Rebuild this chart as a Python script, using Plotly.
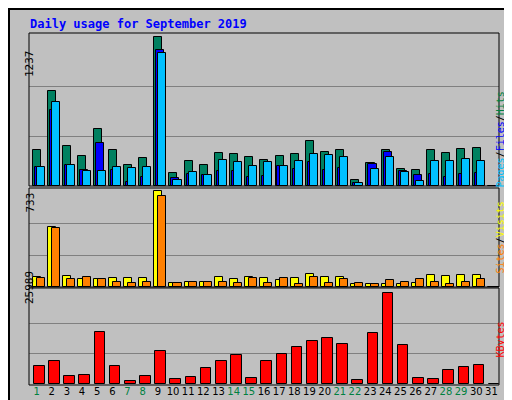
import plotly.graph_objects as go

days = list(range(1, 32))
weekend_days = [1, 7, 8, 14, 15, 21, 22, 28, 29]

hits = [297, 792, 330, 247, 470, 297, 173, 231, 1237, 107, 206, 173, 272, 264, 239,
        214, 247, 264, 371, 280, 297, 49, 190, 297, 140, 132, 297, 272, 305, 313, 0]
files = [157, 635, 173, 132, 355, 132, 33, 74, 1130, 66, 99, 91, 124, 124, 74,
         82, 165, 140, 198, 132, 148, 25, 181, 280, 124, 91, 99, 74, 99, 107, 0]
pages = [157, 701, 173, 124, 124, 157, 148, 157, 1105, 49, 115, 91, 214, 198, 165,
         198, 165, 206, 264, 256, 239, 25, 140, 239, 115, 41, 206, 206, 223, 206, 0]
visits = [74, 460, 81, 58, 58, 66, 66, 66, 733, 34, 42, 42, 74, 58, 74,
          66, 50, 66, 97, 74, 74, 26, 26, 26, 26, 34, 89, 81, 89, 89, 0]
sites = [66, 452, 58, 74, 58, 42, 34, 42, 696, 34, 42, 42, 42, 34, 66,
         34, 66, 26, 74, 34, 58, 34, 26, 50, 42, 58, 42, 26, 42, 58, 0]
kbytes = [5000, 6700, 2170, 2460, 14930, 5000, 760, 2170, 9540, 1320, 1890, 4440, 6700, 8410, 1610,
          6700, 8690, 10670, 12380, 13220, 11520, 1040, 14640, 25989, 11240, 1610, 1320, 3880, 4720, 5290, 0]

W, H = 512, 400
L, R, T, B = 21, 21, 25, 24


def px_x(x):
    return (x - L) / (W - L - R)


def px_y(y):
    return (H - B - y) / (H - T - B)


fig = go.Figure()
line = dict(color="black", width=1)


def bars(vals, color, offset, width, axis):
    fig.add_trace(go.Bar(x=days, y=vals, offset=offset, width=width,
                         marker=dict(color=color, line=line),
                         xaxis="x", yaxis=axis, hoverinfo="skip"))


bars(hits, "#008060", -0.24, 0.53, "y")
bars(files, "#0000FF", -0.11, 0.53, "y")
bars(pages, "#00C0FF", 0.03, 0.53, "y")
bars(visits, "#FFFF00", -0.24, 0.53, "y2")
bars(sites, "#FF8000", 0.03, 0.53, "y2")
bars(kbytes, "#FF0000", -0.17, 0.7, "y3")

ticktext = [
    f"<span style='color:{'#008040' if d in weekend_days else 'black'}'>{d}</span>" for d in days
]

yax = dict(showline=False, gridcolor="#808080", gridwidth=1, showticklabels=False,
           zeroline=False, ticks="", fixedrange=True, automargin=False)

fig.update_layout(
    width=W, height=H, margin=dict(l=L, r=R, t=T, b=B),
    paper_bgcolor="#C0C0C0", plot_bgcolor="#C0C0C0",
    showlegend=False, barmode="overlay", bargap=0,
    font=dict(family="DejaVu Sans Mono", size=11, color="black"),
    xaxis=dict(range=[0.5, 31.5], tickvals=days, ticktext=ticktext, ticks="",
               showline=False, showgrid=False, zeroline=False, anchor="y3",
               tickangle=0, automargin=False,
               tickfont=dict(family="DejaVu Sans", size=10)),
    yaxis=dict(domain=[px_y(178), 1], range=[0, 1270], tickvals=[412, 825], **yax),
    yaxis2=dict(domain=[px_y(279), px_y(180)], range=[0, 757], tickvals=[244, 489], **yax),
    yaxis3=dict(domain=[0, px_y(281)], range=[0, 27100], tickvals=[8663, 17326], **yax),
)

ann = []
ann.append(dict(x=px_x(20), y=px_y(16), xref="paper", yref="paper", xanchor="left",
                yanchor="middle", showarrow=False,
                text="<b>Daily usage for September 2019</b>",
                font=dict(family="DejaVu Sans Mono", size=12, color="#0000FF")))
for label, yc in [("1237", 40), ("733", 195), ("25989", 298)]:
    ann.append(dict(x=px_x(13), y=px_y(yc), xref="paper", yref="paper", showarrow=False,
                    text=label, textangle=-90, font=dict(size=11, color="black")))
right_labels = [
    ("<span style='color:#00C0FF'>Pages</span><span style='color:#000000'>/</span>"
     "<span style='color:#0000FF'>Files</span><span style='color:#000000'>/</span>"
     "<span style='color:#008040'>Hits</span>", 82),
    ("<span style='color:#FF8000'>Sites</span><span style='color:#000000'>/</span>"
     "<span style='color:#FFFF00'>Visits</span>", 230),
    ("<span style='color:#FF0000'>KBytes</span>", 352),
]
for text, yc in right_labels:
    ann.append(dict(x=px_x(499), y=px_y(yc), xref="paper", yref="paper", showarrow=False,
                    text=text, textangle=-90, font=dict(size=10)))
fig.update_layout(annotations=ann)

# panel frames
for top, bottom in [(25, 178), (180, 279), (280, 377)]:
    fig.add_shape(type="rect", xref="paper", yref="paper",
                  x0=px_x(21), x1=px_x(491), y0=px_y(bottom), y1=px_y(top),
                  line=dict(color="black", width=1), layer="above")

fig.add_shape(type="rect", xref="paper", yref="paper",
              x0=px_x(1), x1=px_x(507), y0=px_y(396), y1=px_y(1),
              line=dict(color="black", width=2))

fig.write_html("out.html")
